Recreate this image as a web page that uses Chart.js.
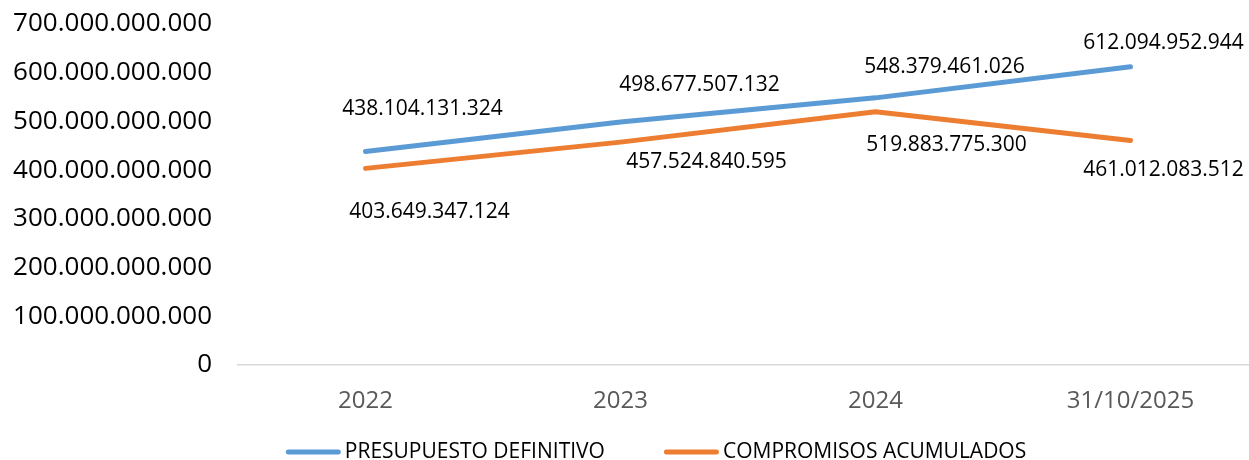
<!DOCTYPE html>
<html>
<head>
<meta charset="utf-8">
<script src="https://cdn.jsdelivr.net/npm/chart.js@4.4.1/dist/chart.umd.min.js"></script>
<style>
  html, body { margin: 0; padding: 0; background: #fff; overflow: hidden; }
  #wrap { position: relative; width: 1258px; height: 460px; }
</style>
</head>
<body>
<div id="wrap"><canvas id="chartPresupuesto"></canvas></div>
<script>
const categories = ["2022", "2023", "2024", "31/10/2025"];
const presupuestoDefinitivo = [438104131324, 498677507132, 548379461026, 612094952944];
const compromisosAcumulados = [403649347124, 457524840595, 519883775300, 461012083512];
const yTicks = [0, 100000000000, 200000000000, 300000000000, 400000000000, 500000000000, 600000000000, 700000000000];

// label placement relative to each point, in px
const labelOffsetBlue = [[57, -43], [79, -37], [69, -31], [33, -24]];
const labelOffsetOrange = [[64, 44], [86, 20], [71, 33], [33, 30]];

const FONT = "'Open Sans', sans-serif";

function formatNum(v) {
  return String(Math.round(v)).replace(/\B(?=(\d{3})+(?!\d))/g, ".");
}

// draws the value labels next to each point
const valueLabels = {
  id: "valueLabels",
  afterDatasetsDraw(chart) {
    const ctx = chart.ctx;
    ctx.save();
    ctx.font = "21px " + FONT;
    ctx.fillStyle = "#000";
    ctx.textAlign = "center";
    ctx.textBaseline = "middle";
    chart.data.datasets.forEach((ds, di) => {
      const meta = chart.getDatasetMeta(di);
      const offsets = di === 0 ? labelOffsetBlue : labelOffsetOrange;
      meta.data.forEach((pt, i) => {
        ctx.fillText(formatNum(ds.data[i]), pt.x + offsets[i][0], pt.y + offsets[i][1]);
      });
    });
    ctx.restore();
  }
};

// legend at the bottom, centred under the whole figure
const bottomLegend = {
  id: "bottomLegend",
  afterDraw(chart) {
    const ctx = chart.ctx;
    const lineLen = 55, textGap = 4, itemGap = 59, y = 452, centerX = 656;
    ctx.save();
    ctx.font = "21px " + FONT;
    ctx.textBaseline = "middle";
    ctx.textAlign = "left";
    const items = chart.data.datasets.map(ds => ({
      text: ds.label, color: ds.borderColor, w: ctx.measureText(ds.label).width
    }));
    let total = 0;
    items.forEach((it, i) => { total += lineLen + textGap + it.w + (i ? itemGap : 0); });
    let x = centerX - total / 2;
    items.forEach(it => {
      ctx.strokeStyle = it.color;
      ctx.lineWidth = 5;
      ctx.lineCap = "round";
      ctx.beginPath();
      ctx.moveTo(x + 2.5, y);
      ctx.lineTo(x + lineLen - 2.5, y);
      ctx.stroke();
      ctx.fillStyle = "#000";
      ctx.fillText(it.text, x + lineLen + textGap, y);
      x += lineLen + textGap + it.w + itemGap;
    });
    ctx.restore();
  }
};

const ctx = document.getElementById("chartPresupuesto");
new Chart(ctx, {
  type: "line",
  data: {
    labels: categories,
    datasets: [
      {
        label: "PRESUPUESTO DEFINITIVO",
        data: presupuestoDefinitivo,
        borderColor: "#5B9BD5",
        backgroundColor: "#5B9BD5",
        borderWidth: 5,
        borderCapStyle: "round",
        borderJoinStyle: "round",
        pointRadius: 0,
        tension: 0
      },
      {
        label: "COMPROMISOS ACUMULADOS",
        data: compromisosAcumulados,
        borderColor: "#ED7D31",
        backgroundColor: "#ED7D31",
        borderWidth: 5,
        borderCapStyle: "round",
        borderJoinStyle: "round",
        pointRadius: 0,
        tension: 0
      }
    ]
  },
  options: {
    responsive: true,
    maintainAspectRatio: false,
    animation: false,
    layout: { padding: { left: 0, right: 0, top: 24, bottom: 48 } },
    plugins: {
      tooltip: { enabled: false },
      legend: { display: false }
    },
    scales: {
      x: {
        offset: true,
        grid: { display: false, drawTicks: false },
        border: { display: true, color: "#D9D9D9", width: 1.5 },
        ticks: { color: "#595959", font: { family: FONT, size: 24 }, padding: 22 },
        afterFit(scale) {
          scale.paddingLeft = 0;
          scale.paddingRight = 0;
          scale.height = 47;
        }
      },
      y: {
        min: 0,
        max: 700000000000,
        grid: { display: false, drawTicks: false },
        border: { display: false },
        afterBuildTicks(scale) {
          scale.ticks = yTicks.map(v => ({ value: v }));
        },
        afterFit(scale) {
          scale.width = 238;
          scale.paddingTop = 0;
          scale.paddingBottom = 0;
        },
        ticks: {
          color: "#000",
          font: { family: FONT, size: 26 },
          padding: 26,
          callback: (v) => formatNum(v)
        }
      }
    }
  },
  plugins: [valueLabels, bottomLegend]
});
</script>
</body>
</html>
